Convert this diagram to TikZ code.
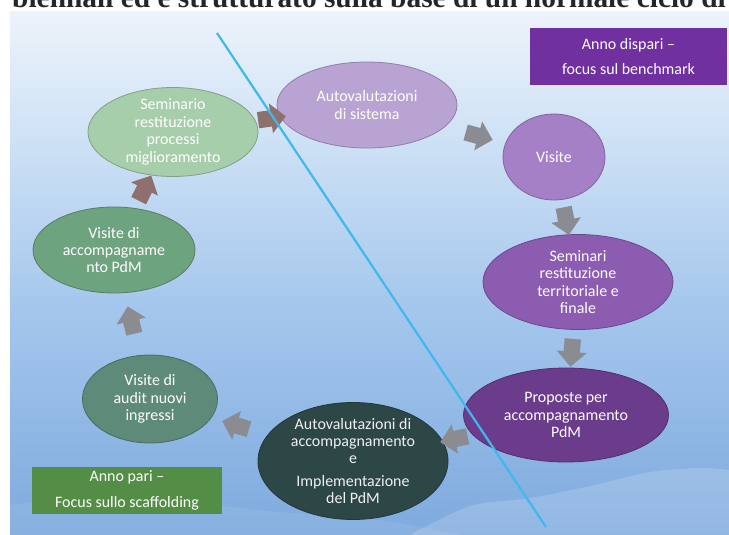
\documentclass[tikz,border=0pt]{standalone}
\usepackage{fontspec}
\setmainfont{Carlito}
\newfontfamily\introfont{Liberation Serif}
\usepackage{tikz}
\usetikzlibrary{positioning, shapes.geometric, shapes.arrows}
\usepackage{xcolor}

\definecolor{skytop}{RGB}{237,243,251}
\definecolor{skyhigh}{RGB}{204,224,245}
\definecolor{skymid}{RGB}{165,199,237}
\definecolor{skylow}{RGB}{126,170,222}
\definecolor{divblue}{RGB}{62,186,234}
\definecolor{flowgray}{RGB}{138,140,146}
\definecolor{flowbrown}{RGB}{142,112,110}
\definecolor{sistcol}{RGB}{184,163,211}
\definecolor{viscol}{RGB}{166,128,198}
\definecolor{terrcol}{RGB}{140,92,176}
\definecolor{propcol}{RGB}{108,60,140}
\definecolor{acccol}{RGB}{45,70,70}
\definecolor{auditcol}{RGB}{94,138,122}
\definecolor{vaccol}{RGB}{110,163,128}
\definecolor{semcol}{RGB}{166,206,170}
\definecolor{oddcol}{RGB}{112,48,160}
\definecolor{evencol}{RGB}{84,142,70}

\pgfdeclareverticalshading{sky}{100bp}{color(0bp)=(skylow); color(25bp)=(skylow);
  color(47bp)=(skymid); color(62bp)=(skyhigh); color(75bp)=(skytop); color(100bp)=(skytop)}

\begin{document}
\begin{tikzpicture}[
    x=1bp, y=-1bp,
    stage/.style={ellipse, fill=#1, draw=#1!78!black, line width=0.8bp, inner sep=0pt},
    stagetext/.style={text=white, align=center, inner sep=0pt,
        font=\fontsize{16}{17.5}\selectfont},
    flow/.style={single arrow, fill=flowgray, draw=none, inner xsep=0pt, inner ysep=7bp,
        minimum height=28bp, minimum width=30bp, single arrow head extend=6bp,
        sloped, allow upside down},
    yearbox/.style={fill=#1, text=white, align=center, inner sep=0pt,
        font=\fontsize{16}{26}\selectfont},
    divider/.style={draw=divblue, line width=2.2bp}
]
\useasboundingbox (0,0) rectangle (729,535);

% Slide background and hazy hills
\shade[shading=sky] (10,12) rectangle (729,535);
\fill[white, opacity=0.08] plot[smooth] coordinates {(10,505) (90,497) (180,502) (280,512) (380,520) (460,535)}
    -- (10,535) -- cycle;
\fill[white, opacity=0.16] plot[smooth] coordinates {(410,535) (470,506) (530,498) (590,486) (650,472) (700,468) (729,470)}
    -- (729,535) -- cycle;

% Line of text above the slide
\begin{scope}
    \clip (0,0) rectangle (729,9);
    \node[anchor=base west, inner sep=0pt, text=black!85,
          font=\introfont\bfseries\fontsize{29.5}{29.5}\selectfont] (intro) at (12,7.5)
        {biennali ed è strutturato sulla base di un normale ciclo di};
\end{scope}

% Odd year (purple)
\node[stage=sistcol, minimum width=180bp, minimum height=86bp] (sist) at (367,105) {};
\node[stagetext] (sist-t) at (sist) {Autovalutazioni\\di sistema};
\node[stage=viscol, minimum width=102bp, minimum height=86bp] (vis) at (554,157) {};
\node[stagetext] (vis-t) at (vis) {Visite};
\node[stage=terrcol, minimum width=190bp, minimum height=95bp] (terr) at (578,282) {};
\node[stagetext] (terr-t) at (terr) {Seminari\\restituzione\\territoriale e\\finale};
\node[stage=propcol, minimum width=205bp, minimum height=94bp] (prop) at (566,415) {};
\node[stagetext] (prop-t) at (prop) {Proposte per\\accompagnamento\\PdM};

% Even year (green)
\node[stage=acccol, minimum width=190bp, minimum height=117bp] (acc) at (353,461) {};
\node[stagetext, text=white!88!gray] (acc-t) at (acc)
    {Autovalutazioni di\\accompagnamento\\e\\[5bp]Implementazione\\del PdM};
\node[stage=auditcol, minimum width=135bp, minimum height=88bp] (audit) at (150,399) {};
\node[stagetext] (audit-t) at (audit) {Visite di\\audit nuovi\\ingressi};
\node[stage=vaccol, minimum width=162bp, minimum height=86bp] (vacc) at (114,250) {};
\node[stagetext] (vacc-t) at (vacc) {Visite di\\accompagname\\nto PdM};
\node[stage=semcol, minimum width=170bp, minimum height=89bp] (sem) at (173,132) {};
\node[stagetext] (sem-t) at (sem) {Seminario\\restituzione\\processi\\miglioramento};

% Cycle arrows
\path (sist) -- node[flow] (f1) {} (vis);
\path (vis) -- node[flow] (f2) {} (terr);
\path (terr) -- node[flow] (f3) {} (prop);
\path (prop) -- node[flow] (f4) {} (acc);
\path (acc) -- node[flow] (f5) {} (audit);
\path (audit) -- node[flow] (f6) {} (vacc);
\path (vacc) -- node[flow, fill=flowbrown] (f7) {} (sem);
\path (sem) -- node[flow, fill=flowbrown] (f8) {} (sist);

% Year labels
\node[yearbox=oddcol, minimum width=197bp, minimum height=57bp] (odd) at (628.5,56.5)
    {Anno dispari --\\focus sul benchmark};
\node[yearbox=evencol, minimum width=190bp, minimum height=47bp] (even) at (127,490)
    {Anno pari --\\Focus sullo scaffolding};

% Split between the two years
\coordinate (divtop) at (217,33);
\coordinate (divbot) at (546,527);
\draw[divider] (divtop) -- (divbot);

\end{tikzpicture}
\end{document}
